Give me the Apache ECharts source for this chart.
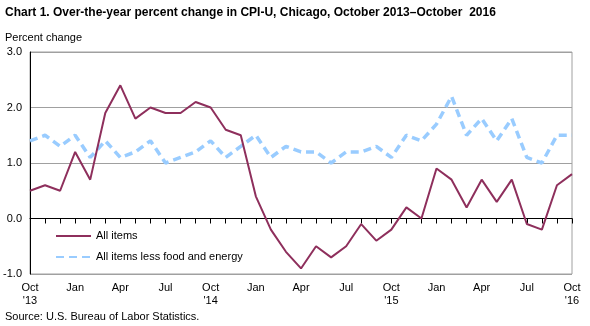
<!DOCTYPE html>
<html>
<head>
<meta charset="utf-8">
<script src="https://cdn.jsdelivr.net/npm/echarts@6/dist/echarts.min.js"></script>
<style>
html,body{margin:0;padding:0;background:#fff;}
#chart{width:590px;height:326px;}
</style>
</head>
<body>
<div id="chart"></div>
<script>
var months = ["Oct\n'13","Nov","Dec","Jan","Feb","Mar","Apr","May","Jun","Jul","Aug","Sep",
  "Oct\n'14","Nov","Dec","Jan","Feb","Mar","Apr","May","Jun","Jul","Aug","Sep",
  "Oct\n'15","Nov","Dec","Jan","Feb","Mar","Apr","May","Jun","Jul","Aug","Sep",
  "Oct\n'16"];
var allItems = [0.5,0.6,0.5,1.2,0.7,1.9,2.4,1.8,2.0,1.9,1.9,2.1,
  2.0,1.6,1.5,0.4,-0.2,-0.6,-0.9,-0.5,-0.7,-0.5,-0.1,-0.4,
  -0.2,0.2,0.0,0.9,0.7,0.2,0.7,0.3,0.7,-0.1,-0.2,0.6,
  0.8];
var coreItems = [1.4,1.5,1.3,1.5,1.1,1.4,1.1,1.2,1.4,1.0,1.1,1.2,
  1.4,1.1,1.3,1.5,1.1,1.3,1.2,1.2,1.0,1.2,1.2,1.3,
  1.1,1.5,1.4,1.7,2.2,1.5,1.8,1.4,1.8,1.1,1.0,1.5,
  1.5];
var yTicks = ["-1.0","0.0","1.0","2.0","3.0"];
var titleText = "Chart 1. Over-the-year percent change in CPI-U, Chicago, October 2013\u2013October  2016";
var yAxisTitle = "Percent change";
var sourceText = "Source: U.S. Bureau of Labor Statistics.";

var FONT = "'Liberation Sans', Arial, sans-serif";
var chart = echarts.init(document.getElementById('chart'));
chart.setOption({
  animation: false,
  backgroundColor: '#fff',
  textStyle: {fontFamily: FONT},
  title: [
    {text: titleText, left: 0, top: 2, textStyle: {fontFamily: FONT, fontSize: 12, fontWeight: 'bold', color: '#000'}},
    {text: yAxisTitle, left: 0, top: 27, textStyle: {fontFamily: FONT, fontSize: 11, fontWeight: 'normal', color: '#000'}},
    {text: sourceText, left: 0, top: 306, textStyle: {fontFamily: FONT, fontSize: 11, fontWeight: 'normal', color: '#000'}}
  ],
  legend: {
    orient: 'vertical',
    left: 50, top: 225.5,
    itemWidth: 35, itemHeight: 12, itemGap: 10,
    itemStyle: {opacity: 0},
    textStyle: {fontFamily: FONT, fontSize: 11, color: '#000'},
    data: ['All items', 'All items less food and energy']
  },
  grid: {left: 30, right: 18, top: 52, bottom: 52, show: true, borderColor: '#a0a0a0', borderWidth: 1, containLabel: false},
  xAxis: {
    type: 'category',
    data: months,
    boundaryGap: false,
    axisLine: {lineStyle: {color: '#000', width: 1}},
    axisTick: {interval: 0, length: 5, lineStyle: {color: '#000'}},
    axisLabel: {interval: 2, color: '#000', fontSize: 11, fontFamily: FONT, margin: 7, lineHeight: 13},
    splitLine: {show: false}
  },
  yAxis: {
    type: 'value',
    min: -1, max: 3, interval: 1,
    axisLine: {show: true, lineStyle: {color: '#000', width: 1}},
    axisTick: {show: false},
    axisLabel: {color: '#000', fontSize: 11, fontFamily: FONT, margin: 8,
      formatter: function (v) { return yTicks[Math.round(v) + 1]; }},
    splitLine: {show: true, lineStyle: {color: '#a0a0a0', width: 1}}
  },
  series: [
    {name: 'All items', type: 'line', data: allItems, symbol: 'none',
      lineStyle: {color: '#8E2F5C', width: 2}, itemStyle: {color: '#8E2F5C'}, z: 3},
    {name: 'All items less food and energy', type: 'line', data: coreItems, symbol: 'none',
      lineStyle: {color: '#99CCFF', width: 3.5, type: [8, 5]}, itemStyle: {color: '#99CCFF'}, z: 2}
  ]
});
</script>
</body>
</html>
